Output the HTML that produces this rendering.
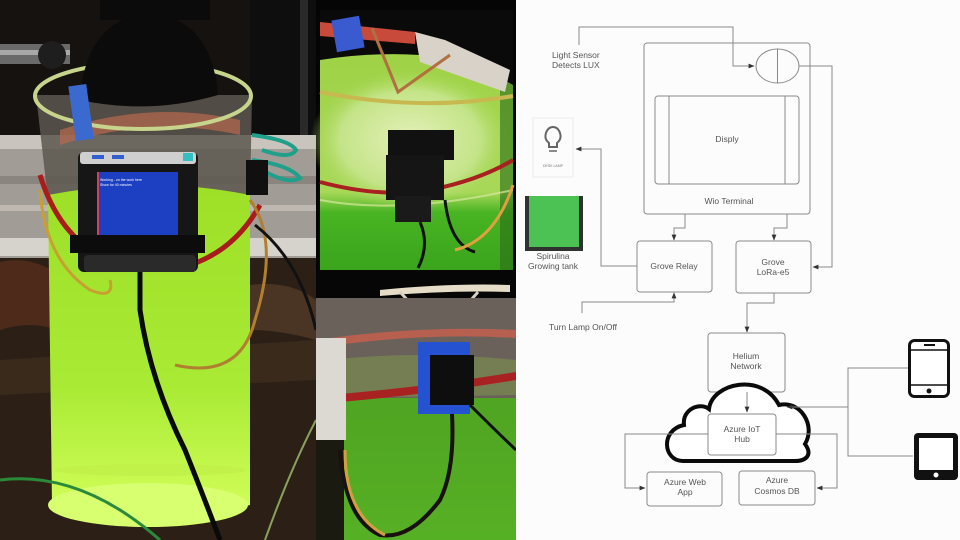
<!DOCTYPE html>
<html><head><meta charset="utf-8"><style>
html,body{margin:0;padding:0;background:#fff;}
svg{display:block;}
text{font-family:"Liberation Sans",sans-serif;}
</style></head><body>
<svg width="960" height="540" viewBox="0 0 960 540" xmlns="http://www.w3.org/2000/svg">
<defs>
<linearGradient id="liq" x1="0" y1="0" x2="0" y2="1">
<stop offset="0" stop-color="#9ee028"/><stop offset="0.6" stop-color="#a8ea34"/><stop offset="1" stop-color="#d4ff5a"/>
</linearGradient>
<linearGradient id="liq2" x1="0" y1="0" x2="0" y2="1">
<stop offset="0" stop-color="#9cd040"/><stop offset="0.7" stop-color="#a8d858"/><stop offset="0.78" stop-color="#48b422"/><stop offset="1" stop-color="#3aa41c"/>
</linearGradient>
<linearGradient id="liq3" x1="0" y1="0" x2="0" y2="1">
<stop offset="0" stop-color="#4a9a20"/><stop offset="1" stop-color="#56b024"/>
</linearGradient>
<radialGradient id="glare" cx="0.5" cy="0.5" r="0.5">
<stop offset="0" stop-color="#e4f0b8"/><stop offset="0.7" stop-color="#c4e488"/><stop offset="1" stop-color="#a8d858" stop-opacity="0"/>
</radialGradient>
<marker id="ar" viewBox="0 0 10 10" refX="9" refY="5" markerWidth="6" markerHeight="6" orient="auto">
<path d="M0,1 L10,5 L0,9 z" fill="#333"/>
</marker>
</defs>

<!-- ============ LEFT PHOTO ============ -->
<rect x="0" y="0" width="316" height="540" fill="#15120f"/>
<rect x="250" y="0" width="66" height="135" fill="#0e0e0e"/>
<rect x="300" y="0" width="8" height="135" fill="#2a2a2a"/>
<rect x="0" y="44" width="70" height="20" fill="#6a6a6a"/>
<rect x="0" y="50" width="70" height="5" fill="#a8a8a8"/>
<circle cx="52" cy="55" r="14" fill="#1e1e1e"/>
<rect x="0" y="135" width="316" height="125" fill="#a29c96"/>
<rect x="0" y="135" width="316" height="14" fill="#c9c4be"/>
<rect x="0" y="176" width="316" height="8" fill="#8a857f"/>
<rect x="0" y="205" width="316" height="6" fill="#bdb7b0"/>
<rect x="0" y="238" width="316" height="18" fill="#d6d2cc"/>
<rect x="0" y="258" width="316" height="282" fill="#2c2016"/>
<path d="M0,262 Q30,255 60,275 L58,330 Q30,320 0,330 Z" fill="#4e2a1a"/>
<path d="M0,360 L316,340 L316,380 L0,395 Z" fill="#3a2a1c"/>
<path d="M250,285 Q290,280 316,300 L316,340 Q280,330 250,330 Z" fill="#4a3424"/>
<path d="M36,95 L48,200 L250,200 L252,95 Z" fill="#5c574f" opacity="0.85"/>
<path d="M60,130 Q150,100 240,120 L240,135 Q150,115 60,145 Z" fill="#b86a50" opacity="0.7"/>
<path d="M48,195 Q150,175 250,195 L250,505 Q150,530 52,505 Z" fill="url(#liq)"/>
<ellipse cx="148" cy="505" rx="100" ry="22" fill="#d8ff70"/>
<ellipse cx="150" cy="470" rx="96" ry="6" fill="#c0f24a"/>
<ellipse cx="143" cy="96" rx="108" ry="33" fill="none" stroke="#c6d48c" stroke-width="4"/>
<path d="M80,100 Q85,20 150,12 Q212,20 218,95 Q150,115 80,100 Z" fill="#0b0b0b"/>
<rect x="100" y="0" width="110" height="20" fill="#0b0b0b"/>
<rect x="72" y="85" width="18" height="55" fill="#3a6ad0" transform="rotate(-8 81 112)"/>
<path d="M40,175 Q60,240 110,260 Q150,268 190,265 Q235,250 260,205" fill="none" stroke="#a81c1c" stroke-width="5"/>
<path d="M40,190 Q45,260 90,290 Q115,300 110,280" fill="none" stroke="#c8a030" stroke-width="3"/>
<path d="M250,200 Q280,240 255,320 Q240,380 175,365" fill="none" stroke="#b08030" stroke-width="3"/>
<path d="M255,225 Q300,260 316,330" fill="none" stroke="#111" stroke-width="3"/>
<path d="M0,480 Q80,470 160,540" fill="none" stroke="#2a8a3a" stroke-width="3"/>
<path d="M316,420 Q290,470 265,540" fill="none" stroke="#8aa060" stroke-width="2"/>
<path d="M252,135 Q290,140 296,150 Q290,160 262,150 M252,160 Q290,165 300,178 Q288,185 262,170" fill="none" stroke="#1ea08a" stroke-width="4"/>
<rect x="246" y="160" width="22" height="35" fill="#101010"/>
<rect x="78" y="152" width="120" height="120" rx="6" fill="#161616"/>
<rect x="80" y="152" width="116" height="12" rx="3" fill="#cfcfcf"/>
<rect x="92" y="155" width="12" height="4" fill="#3060d0"/>
<rect x="112" y="155" width="12" height="4" fill="#3060d0"/>
<rect x="183" y="153" width="10" height="8" fill="#30c0c0"/>
<rect x="97" y="172" width="81" height="66" fill="#1d3fc2"/>
<rect x="97" y="172" width="2" height="66" fill="#d04060"/>
<text x="100" y="181" font-size="3.5" fill="#fff">Working - on the work here</text>
<text x="100" y="186" font-size="3.5" fill="#fff">Show for 40 minutes</text>
<rect x="70" y="235" width="135" height="18" fill="#0c0c0c"/>
<rect x="84" y="255" width="112" height="17" rx="4" fill="#2a2a2a"/>
<path d="M140,272 L140,310 Q150,380 185,450 Q205,500 220,540" fill="none" stroke="#0a0a0a" stroke-width="5"/>

<!-- ============ MIDDLE PHOTOS ============ -->
<rect x="316" y="0" width="200" height="540" fill="#050505"/>
<!-- top photo -->
<rect x="320" y="10" width="193" height="260" fill="url(#liq2)"/>
<ellipse cx="410" cy="140" rx="100" ry="70" fill="url(#glare)"/>
<rect x="500" y="10" width="13" height="260" fill="#2a6a18" opacity="0.6"/>
<path d="M320,10 L513,10 L513,85 Q470,60 420,55 Q370,52 320,60 Z" fill="#0a0a0a"/>
<path d="M320,22 L415,32 L415,44 L320,36 Z" fill="#c84a3a"/>
<rect x="334" y="18" width="28" height="32" fill="#3a5ad0" transform="rotate(-10 348 34)"/>
<path d="M415,32 L445,40 L510,70 L505,92 L420,62 Z" fill="#d8d2c8"/>
<path d="M320,92 Q420,112 513,96" fill="none" stroke="#c8b850" stroke-width="4"/>
<path d="M372,28 L398,92 L450,55" fill="none" stroke="#b07040" stroke-width="3"/>
<path d="M320,182 Q380,198 430,190 Q480,180 513,160" fill="none" stroke="#a82020" stroke-width="4"/>
<path d="M320,200 Q400,215 513,190" fill="none" stroke="#d8e8a0" stroke-width="2" opacity="0.7"/>
<rect x="388" y="130" width="66" height="30" fill="#111"/>
<rect x="386" y="155" width="58" height="45" fill="#151515"/>
<rect x="395" y="196" width="36" height="26" fill="#1a1a1a"/>
<path d="M420,222 Q430,245 418,268 M445,200 Q450,245 475,252" fill="none" stroke="#111" stroke-width="3"/>
<path d="M455,250 Q495,240 513,185" fill="none" stroke="#e0a040" stroke-width="3"/>
<!-- bottom photo -->
<rect x="316" y="270" width="200" height="270" fill="url(#liq3)"/>
<rect x="316" y="270" width="200" height="30" fill="#060606"/>
<path d="M380,290 Q450,283 510,285 L510,292 Q450,290 380,296 Z" fill="#e6ddc8"/>
<path d="M400,292 L440,335 L478,292" fill="none" stroke="#d8d0c0" stroke-width="3"/>
<rect x="316" y="298" width="200" height="100" fill="#6a625a"/>
<path d="M316,340 Q420,325 516,330 L516,338 Q420,332 316,348 Z" fill="#b86050"/>
<path d="M330,360 Q420,350 516,360 L516,395 L330,398 Z" fill="#7a8a50" opacity="0.7"/>
<path d="M316,396 Q420,388 516,372 L516,380 Q420,396 316,404 Z" fill="#a82222"/>
<rect x="316" y="338" width="30" height="102" fill="#dcd8d2"/>
<rect x="316" y="440" width="28" height="100" fill="#1a1a10"/>
<rect x="418" y="342" width="52" height="72" fill="#2452d0"/>
<rect x="430" y="355" width="44" height="50" fill="#0e0e0e"/>
<path d="M452,414 Q455,470 440,500 Q410,540 380,535 Q345,520 340,450" fill="none" stroke="#1a1010" stroke-width="4"/>
<path d="M345,450 Q345,515 385,535" fill="none" stroke="#d0a040" stroke-width="3"/>
<path d="M470,405 Q495,430 516,450" fill="none" stroke="#111" stroke-width="3"/>

<!-- ============ DIAGRAM ============ -->
<rect x="516" y="0" width="444" height="540" fill="#fcfcfc"/>
<g fill="none" stroke="#8a8a8a" stroke-width="1">
<rect x="644" y="43" width="166" height="171" rx="3"/>
<rect x="655" y="96" width="144" height="88" rx="3"/>
<line x1="669" y1="96" x2="669" y2="184"/>
<line x1="785" y1="96" x2="785" y2="184"/>
<ellipse cx="777.5" cy="66" rx="21.5" ry="17"/>
<line x1="777.5" y1="49" x2="777.5" y2="83"/>
<rect x="637" y="241" width="75" height="51" rx="3"/>
<rect x="736" y="241" width="75" height="52" rx="3"/>
<rect x="708" y="333" width="77" height="59" rx="3"/>
<rect x="647" y="472" width="75" height="34" rx="3"/>
<rect x="739" y="471" width="76" height="34" rx="3"/>
<rect x="533" y="118" width="40" height="59" stroke="#ececec"/>
</g>
<g fill="none" stroke="#8a8a8a" stroke-width="1">
<path d="M579,45 L579,27 L733,27 L733,66 L754,66" marker-end="url(#ar)"/>
<path d="M799,66 L832,66 L832,267 L813,267" marker-end="url(#ar)"/>
<path d="M685,214 L685,228 L674,228 L674,240" marker-end="url(#ar)"/>
<path d="M787,214 L787,228 L774,228 L774,240" marker-end="url(#ar)"/>
<path d="M637,266 L601,266 L601,149 L576,149" marker-end="url(#ar)"/>
<path d="M582,313 L582,302 L674,302 L674,293" marker-end="url(#ar)"/>
<path d="M774,293 L774,303 L747,303 L747,332" marker-end="url(#ar)"/>
</g>
<path d="M683,461 C663,461 660,430 684,425 C682,409 700,402 709,409 C712,383 762,372 779,405 C801,400 816,426 805,444 C813,455 806,461 795,461 Z" fill="#fff" stroke="#0a0a0a" stroke-width="4"/>
<g fill="none" stroke="#8a8a8a" stroke-width="1">
<path d="M747,392 L747,412" marker-end="url(#ar)"/>
<rect x="708" y="414" width="68" height="41" rx="3" fill="#fff"/>
<path d="M708,434 L625,434 L625,488 L645,488" marker-end="url(#ar)"/>
<path d="M776,434 L837,434 L837,488 L817,488" marker-end="url(#ar)"/>
<path d="M908,368 L848,368 L848,456 L913,456"/>
<path d="M848,407 L787,407" marker-end="url(#ar)"/>
</g>
<g font-size="8.5" fill="#555">
<text x="552" y="58">Light Sensor</text>
<text x="552" y="68">Detects LUX</text>
<text x="727" y="142" text-anchor="middle">Disply</text>
<text x="729" y="204" text-anchor="middle">Wio Terminal</text>
<text x="674" y="269" text-anchor="middle">Grove Relay</text>
<text x="773" y="265" text-anchor="middle">Grove</text>
<text x="773" y="275" text-anchor="middle">LoRa-e5</text>
<text x="553" y="259" text-anchor="middle">Spirulina</text>
<text x="553" y="269" text-anchor="middle">Growing tank</text>
<text x="583" y="330" text-anchor="middle">Turn Lamp On/Off</text>
<text x="746" y="359" text-anchor="middle">Helium</text>
<text x="746" y="369" text-anchor="middle">Network</text>
<text x="742" y="432" text-anchor="middle">Azure IoT</text>
<text x="742" y="442" text-anchor="middle">Hub</text>
<text x="685" y="485" text-anchor="middle">Azure Web</text>
<text x="685" y="495" text-anchor="middle">App</text>
<text x="777" y="483" text-anchor="middle">Azure</text>
<text x="777" y="494" text-anchor="middle">Cosmos DB</text>
</g>
<path d="M549,147 L549,143 Q544,139 546,133 Q548,127 553,127 Q558,127 560,133 Q562,139 557,143 L557,147 Z" fill="none" stroke="#666" stroke-width="2"/>
<line x1="549" y1="151" x2="557" y2="151" stroke="#666" stroke-width="1.5"/>
<text x="553" y="167" font-size="3.5" fill="#777" text-anchor="middle">DESK LAMP</text>
<path d="M525,196 L525,251 L583,251 L583,196 L579,196 L579,247 L529,247 L529,196 Z" fill="#2e3330"/>
<rect x="529" y="196" width="50" height="51" fill="#4cc154"/>
<rect x="909.5" y="340.5" width="39" height="56" rx="5" fill="#fff" stroke="#111" stroke-width="3"/>
<line x1="910" y1="350" x2="948" y2="350" stroke="#111" stroke-width="1.5"/>
<line x1="910" y1="385" x2="948" y2="385" stroke="#111" stroke-width="1.5"/>
<rect x="924" y="344" width="11" height="2" fill="#111"/>
<circle cx="929" cy="391" r="2.5" fill="#111"/>
<rect x="914" y="433" width="44" height="47" rx="4" fill="#111"/>
<rect x="919" y="438" width="34" height="32" fill="#fff"/>
<circle cx="936" cy="475" r="2.5" fill="#fff"/>
</svg>
</body></html>
